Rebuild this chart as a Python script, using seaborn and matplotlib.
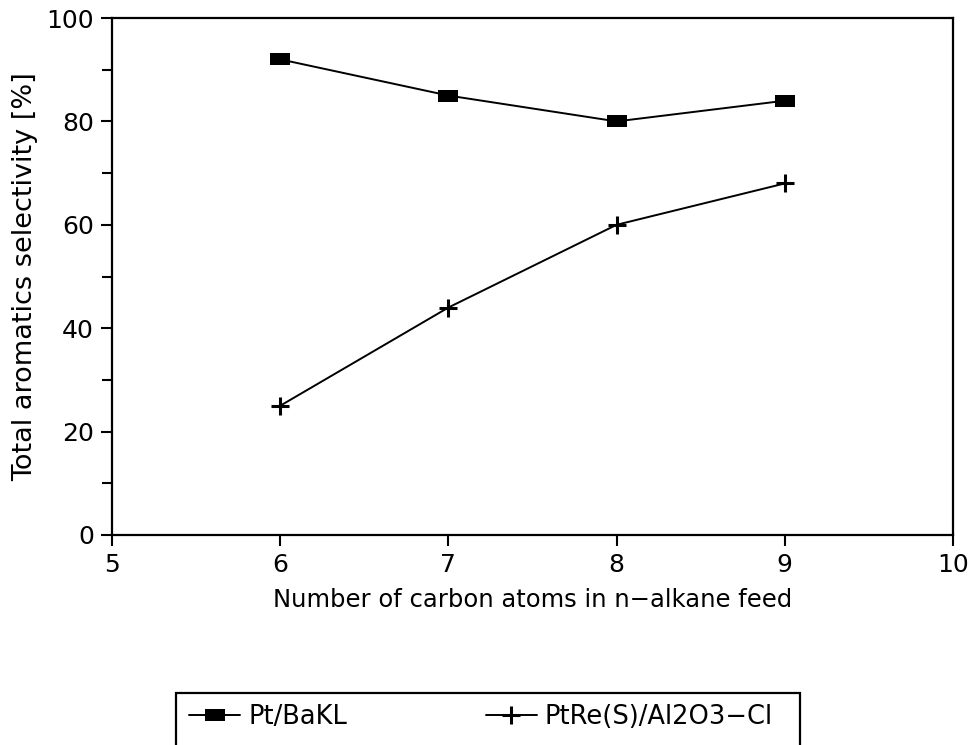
import matplotlib
matplotlib.use("Agg")
import matplotlib.pyplot as plt
import seaborn as sns
import pandas as pd
from matplotlib.patches import Rectangle
from matplotlib.ticker import MultipleLocator

carbon_atoms = [6, 7, 8, 9]
pt_bakl = [92, 85, 80, 84]
ptre_al2o3 = [25, 44, 60, 68]
series_names = ["Pt/BaKL", "PtRe(S)/Al2O3\u2212Cl"]

sns.set_theme(style="ticks")
plt.rcParams['font.family'] = ['DejaVu Sans']

df = pd.concat([
    pd.DataFrame({"n": carbon_atoms, "sel": pt_bakl, "catalyst": series_names[0]}),
    pd.DataFrame({"n": carbon_atoms, "sel": ptre_al2o3, "catalyst": series_names[1]}),
])

fig = plt.figure(figsize=(9.7, 7.45), dpi=100)
ax = fig.add_axes([112/970, 1-535/745, (953-112)/970, (535-18)/745])

rect_marker = [(-1.6, -1), (1.6, -1), (1.6, 1), (-1.6, 1), (-1.6, -1)]

sns.lineplot(data=df[df.catalyst == series_names[0]], x="n", y="sel", ax=ax,
             color="black", lw=1.4, marker=rect_marker, markersize=14,
             markeredgewidth=0, markerfacecolor="black", label=series_names[0])
sns.lineplot(data=df[df.catalyst == series_names[1]], x="n", y="sel", ax=ax,
             color="black", lw=1.4, marker="+", markersize=13,
             markeredgewidth=2.2, markeredgecolor="black", label=series_names[1])

ax.set_xlim(5, 10)
ax.set_ylim(0, 100)
ax.xaxis.set_major_locator(MultipleLocator(1))
ax.yaxis.set_major_locator(MultipleLocator(20))
ax.yaxis.set_minor_locator(MultipleLocator(10))
ax.tick_params(axis="both", which="major", direction="out", length=8, width=1.5,
               labelsize=18, color="black", labelcolor="black", pad=5)
ax.tick_params(axis="y", which="minor", direction="out", length=7, width=1.5, color="black")
for s in ax.spines.values():
    s.set_visible(True)
    s.set_linewidth(1.6)
    s.set_color("black")

ax.set_xlabel("Number of carbon atoms in n\u2212alkane feed", fontsize=17.5, color="black", labelpad=8)
ax.set_ylabel("Total aromatics selectivity [%]", fontsize=19.5, color="black", labelpad=6)

handles, labels = ax.get_legend_handles_labels()
ax.get_legend().remove()
leg = fig.legend(handles, labels, ncol=2, frameon=False, fontsize=18.5,
                 loc="center left", bbox_to_anchor=(189/970, 1-717/745),
                 handlelength=2.0, handletextpad=0.3, columnspacing=5.4,
                 borderpad=0, borderaxespad=0)
for t in leg.get_texts():
    t.set_color("black")

fig.patches.append(Rectangle((176/970, -0.05), (800-176)/970, (1-693/745)+0.05,
                             transform=fig.transFigure, fill=False,
                             edgecolor="black", linewidth=1.6))

fig.savefig("out.png", dpi=100)
